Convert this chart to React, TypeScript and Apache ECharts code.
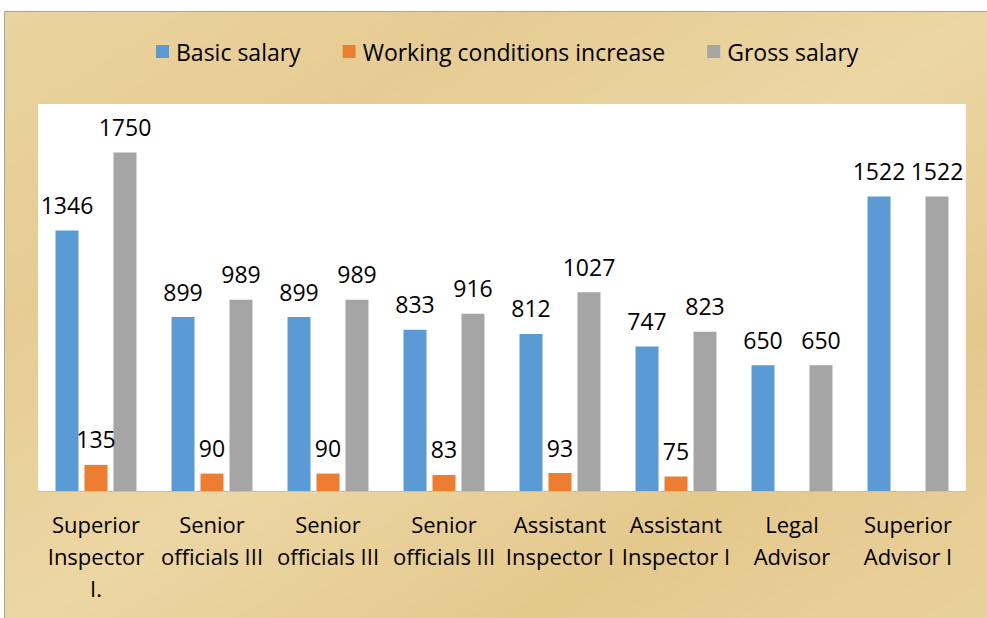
import React, { useEffect, useRef } from "react";
import * as echarts from "echarts";

const categories = [
  "Superior\nInspector\nI.",
  "Senior\nofficials III",
  "Senior\nofficials III",
  "Senior\nofficials III",
  "Assistant\nInspector I",
  "Assistant\nInspector I",
  "Legal\nAdvisor",
  "Superior\nAdvisor I",
];
const basicSalary = [1346, 899, 899, 833, 812, 747, 650, 1522];
const workingIncrease: (number | null)[] = [135, 90, 90, 83, 93, 75, null, null];
const grossSalary = [1750, 989, 989, 916, 1027, 823, 650, 1522];
const seriesNames = ["Basic salary", "Working conditions increase", "Gross salary"];
const colors = ["#5b9bd5", "#ed7d31", "#a5a5a5"];

const FONT = "'Open Sans', 'Noto Sans', sans-serif";

export default function App() {
  const ref = useRef<HTMLDivElement>(null);
  useEffect(() => {
    if (!ref.current) return;
    const chart = echarts.init(ref.current, undefined, { renderer: "svg" });
    const label = {
      show: true,
      position: "top" as const,
      distance: 14,
      color: "#000",
      fontFamily: FONT,
      fontSize: 23,
    };
    const datas = [basicSalary, workingIncrease, grossSalary];
    chart.setOption({
      animation: false,
      backgroundColor: "#ffffff",
      graphic: [
        {
          type: "rect",
          z: -10,
          silent: true,
          shape: { x: 4.5, y: 11.5, width: 990, height: 620 },
          style: {
            fill: new echarts.graphic.LinearGradient(0, 0, 1, 1, [
              { offset: 0, color: "#ead39e" },
              { offset: 0.25, color: "#e6cc92" },
              { offset: 0.5, color: "#ecd6a3" },
              { offset: 0.75, color: "#e4c98d" },
              { offset: 1, color: "#e9d19b" },
            ]),
            stroke: "#a6a6a6",
            lineWidth: 1,
          },
        },
      ],
      legend: {
        top: 35,
        left: 151,
        icon: "rect",
        itemWidth: 13,
        itemHeight: 13,
        itemGap: 42,
        data: seriesNames,
        textStyle: {
          color: "#000",
          fontFamily: FONT,
          fontSize: 23,
          padding: [0, 0, 0, 2],
        },
      },
      grid: {
        left: 38,
        right: 21,
        top: 104,
        bottom: 127,
        show: true,
        backgroundColor: "#ffffff",
        borderWidth: 0,
        containLabel: false,
      },
      xAxis: {
        type: "category",
        data: categories,
        axisTick: { show: false },
        axisLine: { lineStyle: { color: "#bfbfbf", width: 1 } },
        axisLabel: {
          interval: 0,
          color: "#000",
          fontFamily: FONT,
          fontSize: 22,
          lineHeight: 32,
          margin: 17,
        },
      },
      yAxis: {
        type: "value",
        min: 0,
        max: 2000,
        show: false,
        splitLine: { show: false },
      },
      series: seriesNames.map((name, i) => ({
        name,
        type: "bar",
        data: datas[i],
        barWidth: 23,
        barGap: "26%",
        itemStyle: { color: colors[i] },
        label,
      })),
    });
    return () => chart.dispose();
  }, []);
  return (
    <div
      ref={ref}
      style={{ position: "absolute", left: 0, top: 0, width: 987, height: 618 }}
    />
  );
}
